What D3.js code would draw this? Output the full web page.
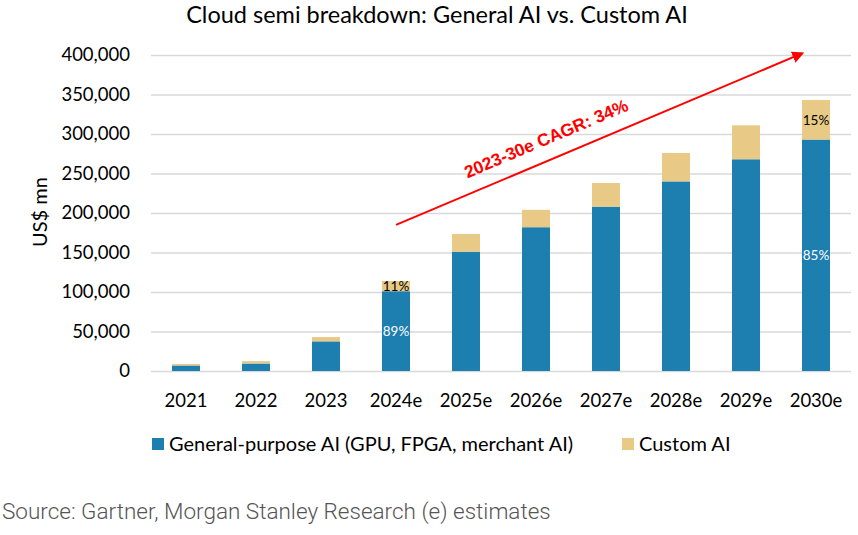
<!DOCTYPE html>
<html>
<head>
<meta charset="utf-8">
<script src="https://cdn.jsdelivr.net/npm/d3@7"></script>
<style>
  body { margin: 0; background: #fff; }
  text { font-family: Lato, "Noto Sans", sans-serif; }
</style>
</head>
<body>
<div id="chart"></div>
<script>
// data
var years = ["2021", "2022", "2023", "2024e", "2025e", "2026e", "2027e", "2028e", "2029e", "2030e"];
var generalAI = [7000, 9500, 37500, 101000, 151000, 182000, 208000, 240000, 268000, 293000];
var customAI = [2000, 3000, 5500, 13000, 22500, 22000, 30000, 36000, 43000, 50000];
var yTicks = [0, 50000, 100000, 150000, 200000, 250000, 300000, 350000, 400000];
var labelYears = ["2024e", "2030e"];
var seriesNames = ["General-purpose AI (GPU, FPGA, merchant AI)", "Custom AI"];
var colors = ["#1d7eb0", "#e8ca86"];
var cagrText = "2023-30e CAGR: 34%";
// arrow annotation in data units
var arrowFrom = { year: "2024e", value: 185000 };
var arrowTo = { year: "2030e", value: 402000 };

var width = 858;
var height = 535;

var svg = d3.select("#chart")
	.append("svg")
	.attr("width", width)
	.attr("height", height);

var x = d3.scaleBand()
	.domain(years)
	.range([151, 851])
	.paddingInner(0.6)
	.paddingOuter(0.3);

var y = d3.scaleLinear()
	.domain([0, 400000])
	.range([371, 55]);

///////////////////////////////// gridlines + y axis /////////////////////////////////
var yAxis = svg.append("g")
	.attr("transform", "translate(151,0)")
	.call(d3.axisLeft(y).tickValues(yTicks).tickSize(-700).tickPadding(21)
		.tickFormat(d3.format(",")));
yAxis.select(".domain").remove();
yAxis.selectAll("line").attr("stroke", "#d9d9d9").attr("stroke-width", 1.4);
yAxis.selectAll("text")
	.style("font-size", "18.5px")
	.attr("fill", "#000");

svg.append("text")
	.attr("transform", "translate(47,212) rotate(-90)")
	.attr("text-anchor", "middle")
	.style("font-size", "20px")
	.text("US$ mn");

///////////////////////////////// bars /////////////////////////////////
var rows = years.map(function(d, i) {
	return { year: d, g: generalAI[i], c: customAI[i] };
});

var bars = svg.append("g");
bars.selectAll(".gen")
	.data(rows)
	.enter().append("rect")
	.attr("x", function(d) { return x(d.year); })
	.attr("y", function(d) { return y(d.g); })
	.attr("width", x.bandwidth())
	.attr("height", function(d) { return y(0) - y(d.g); })
	.attr("fill", colors[0]);

bars.selectAll(".cus")
	.data(rows)
	.enter().append("rect")
	.attr("x", function(d) { return x(d.year); })
	.attr("y", function(d) { return y(d.g + d.c); })
	.attr("width", x.bandwidth())
	.attr("height", function(d) { return y(d.g) - y(d.g + d.c); })
	.attr("fill", colors[1]);

// percentage labels
var labelRows = rows.filter(function(d) { return labelYears.indexOf(d.year) >= 0; });
labelRows.forEach(function(d) {
	var tot = d.g + d.c;
	var pc = Math.round(d.c / tot * 100);
	var cx = x(d.year) + x.bandwidth() / 2;
	svg.append("text")
		.attr("x", cx)
		.attr("y", y(d.g + d.c / 2))
		.attr("dy", "0.35em")
		.attr("text-anchor", "middle")
		.style("font-size", "13.5px")
		.attr("fill", "#000")
		.text(pc + "%");
	svg.append("text")
		.attr("x", cx)
		.attr("y", y(d.g / 2))
		.attr("dy", "0.35em")
		.attr("text-anchor", "middle")
		.style("font-size", "13.5px")
		.attr("fill", "#fff")
		.text((100 - pc) + "%");
});

///////////////////////////////// x axis /////////////////////////////////
var xAxis = svg.append("g")
	.attr("transform", "translate(0,371)")
	.call(d3.axisBottom(x).tickSize(0).tickPadding(23));
xAxis.select(".domain").remove();
xAxis.selectAll("text")
	.style("font-size", "18.5px")
	.attr("fill", "#000");

///////////////////////////////// arrow /////////////////////////////////
var defs = svg.append("defs");
defs.append("marker")
	.attr("id", "head")
	.attr("viewBox", "0 0 10 10")
	.attr("refX", 8)
	.attr("refY", 5)
	.attr("markerWidth", 6)
	.attr("markerHeight", 6)
	.attr("orient", "auto")
	.append("path")
	.attr("d", "M0,0L10,5L0,10z")
	.attr("fill", "#ff0000");

var ax1 = x(arrowFrom.year) + x.bandwidth() / 2, ay1 = y(arrowFrom.value);
var ax2 = x(arrowTo.year), ay2 = y(arrowTo.value);
svg.append("line")
	.attr("x1", ax1).attr("y1", ay1)
	.attr("x2", ax2).attr("y2", ay2)
	.attr("stroke", "#ff0000")
	.attr("stroke-width", 2)
	.attr("marker-end", "url(#head)");

var ang = Math.atan2(ay2 - ay1, ax2 - ax1) * 180 / Math.PI;
var t = 0.39;
svg.append("text")
	.attr("transform", "translate(" + (ax1 + t * (ax2 - ax1)) + "," + (ay1 + t * (ay2 - ay1)) + ") rotate(" + ang + ")")
	.attr("y", -15)
	.attr("text-anchor", "middle")
	.style("font-family", "'Liberation Sans', Arial, sans-serif")
	.style("font-weight", "bold")
	.style("font-size", "17.5px")
	.attr("fill", "#ff0000")
	.text(cagrText);

///////////////////////////////// title, legend, source /////////////////////////////////
svg.append("text")
	.attr("x", 437)
	.attr("y", 23)
	.attr("text-anchor", "middle")
	.style("font-size", "23.5px")
	.text("Cloud semi breakdown: General AI vs. Custom AI");

var legX = [152, 622];
seriesNames.forEach(function(n, i) {
	svg.append("rect")
		.attr("x", legX[i]).attr("y", 438)
		.attr("width", 12).attr("height", 12)
		.attr("fill", colors[i]);
	svg.append("text")
		.attr("x", legX[i] + 17)
		.attr("y", 451)
		.style("font-size", "20px")
		.text(n);
});

svg.append("text")
	.attr("x", 2)
	.attr("y", 519)
	.style("font-family", "Roboto, sans-serif")
	.style("font-weight", 300)
	.style("font-size", "22.5px")
	.attr("fill", "#555")
	.text("Source: Gartner, Morgan Stanley Research (e) estimates");
</script>
</body>
</html>
